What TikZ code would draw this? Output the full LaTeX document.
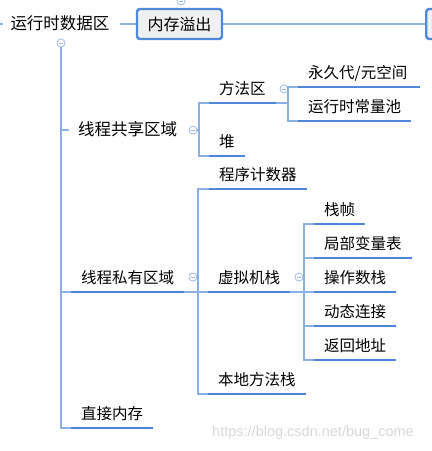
\documentclass[tikz,border=0pt]{standalone}
\usepackage{fontspec}
\usepackage{xcolor}
\usepackage{tikz}
\usetikzlibrary{positioning}
\newfontfamily\cjk{Noto Sans CJK SC}
\newfontfamily\wmfont{Liberation Sans}
\definecolor{linkblue}{HTML}{8AB0E5}
\definecolor{lineblue}{HTML}{4F88D6}
\definecolor{foldblue}{HTML}{9DB9E2}
\definecolor{boxgray}{HTML}{F0F0F0}
\tikzstyle{link} = [draw=linkblue, line width=1.1pt]
\tikzstyle{uline} = [draw=lineblue, line width=2.6pt]
\tikzstyle{topic} = [font=\cjk\fontsize{15.5}{18}\selectfont, inner xsep=10pt, inner ysep=6pt, text height=12pt, text depth=2pt, anchor=south west]
\tikzstyle{fold} = [circle, draw=foldblue, fill=white, line width=0.8pt, minimum size=8pt, inner sep=0pt,
    path picture={\draw[foldblue, line width=0.8pt] ([xshift=-2.2pt]path picture bounding box.center) -- ([xshift=2.2pt]path picture bounding box.center);}]
\tikzstyle{oombox} = [draw=lineblue, line width=2.4pt, fill=boxgray, rounded corners=3pt, minimum width=85pt, minimum height=30pt, font=\cjk\fontsize{16}{18}\selectfont]

\begin{document}
\begin{tikzpicture}[x=1pt, y=-1pt]
    \clip (0,0) rectangle (432,451);

    % Root and the overflow box
    \node[topic, anchor=center, font=\cjk\fontsize{16.5}{18}\selectfont] (root) at (60,24) {运行时数据区};
    \node[oombox] (oom) at (179.5,24) {内存溢出};
    \node[oombox, anchor=west, minimum width=60pt] (nextbox) at (425,24) {};

    % First level
    \node[topic, anchor=west, inner xsep=9pt, font=\cjk\fontsize{16.5}{18}\selectfont] (shared) at (69,130) {线程共享区域};
    \node[topic] (priv) at (71,292) {线程私有区域};
    \node[topic] (direct) at (71,428) {直接内存};

    % Second level
    \node[topic] (fq) at (209,103) {方法区};
    \node[topic] (heap) at (209,156) {堆};
    \node[topic] (pc) at (209,189) {程序计数器};
    \node[topic] (vms) at (208,292) {虚拟机栈};
    \node[topic] (native) at (208,394) {本地方法栈};

    % Third level
    \node[topic, text width=102pt, align=left] (perm) at (298,87) {永久代/元空间};
    \node[topic] (pool) at (298,121) {运行时常量池};
    \node[topic] (frame) at (314,224) {栈帧};
    \node[topic] (locals) at (314,258) {局部变量表};
    \node[topic] (operand) at (314,292) {操作数栈};
    \node[topic] (dynlink) at (314,326) {动态连接};
    \node[topic] (retaddr) at (314,360) {返回地址};

    % Fold markers
    \node[fold] (rootfold) at (61,43) {};
    \node[fold] (oomfold) at (181,1) {};
    \node[fold] (sharedfold) at (193,130) {};
    \node[fold] (privfold) at (193,277) {};
    \node[fold] (fqfold) at (284,89) {};
    \node[fold] (vmsfold) at (299,277) {};

    % Branch points
    \coordinate (edge) at (-5,24);
    \coordinate (sharedbus) at (199,130);
    \coordinate (privbus) at (198,292);
    \coordinate (fqbus) at (288,103);
    \coordinate (vmsbus) at (304,292);

    % Connectors
    \draw[link] (edge) -- ([xshift=3pt]root.west);
    \draw[link] (root) -- (oom);
    \draw[link] (oom) -- (nextbox);
    \draw[link] (rootfold) |- (shared.west);
    \draw[link] (rootfold) |- (priv.south west);
    \draw[link] (rootfold) |- (direct.south west);
    \draw[link] (sharedfold) -- (sharedbus);
    \draw[link] (sharedbus) |- (fq.south west);
    \draw[link] (sharedbus) |- (heap.south west);
    \draw[link] (priv.south east) -- (privbus);
    \draw[link] (privbus) |- (pc.south west);
    \draw[link] (privbus) |- (vms.south west);
    \draw[link] (privbus) |- (native.south west);
    \draw[link] (fq.south east) -- (fqbus);
    \draw[link] (fqbus) |- (perm.south west);
    \draw[link] (fqbus) |- (pool.south west);
    \draw[link] (vms.south east) -- (vmsbus);
    \foreach \n in {frame,locals,operand,dynlink,retaddr}
        \draw[link] (vmsbus) |- (\n.south west);

    % Underlines
    \foreach \n in {priv,direct,fq,heap,pc,vms,native,perm,pool,frame,locals,operand,dynlink,retaddr}
        \draw[uline] (\n.south west) -- (\n.south east);

    % Watermark
    \node[font=\wmfont\fontsize{14.5}{16}\selectfont, text=black!15] (mark) at (313,433) {https://blog.csdn.net/bug\_come};
\end{tikzpicture}
\end{document}
